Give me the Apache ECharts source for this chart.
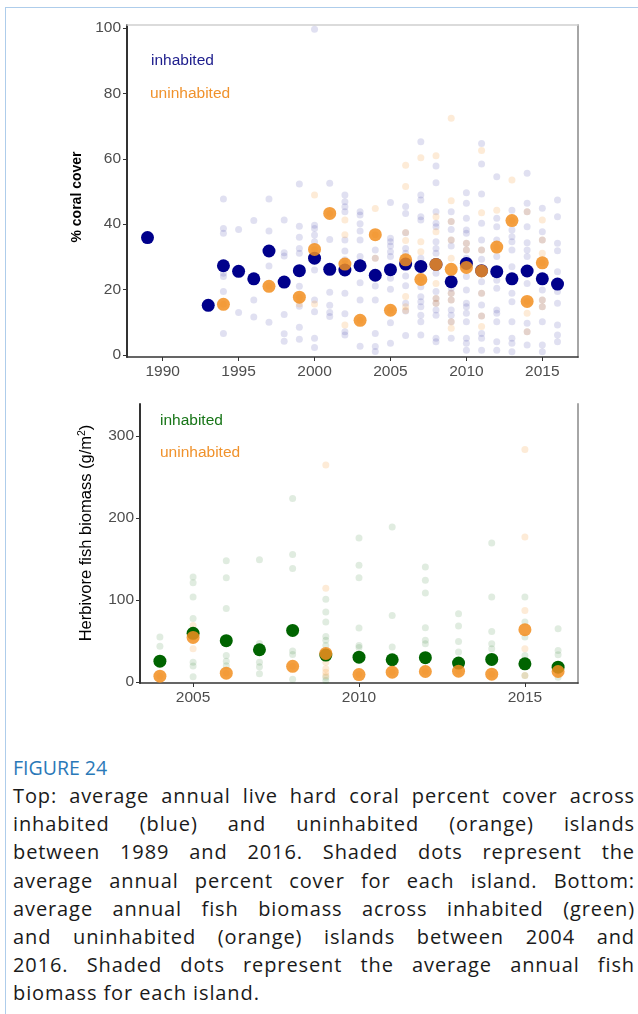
<!DOCTYPE html>
<html>
<head>
<meta charset="utf-8">
<script src="https://cdn.jsdelivr.net/npm/echarts@6/dist/echarts.min.js"></script>
<style>
  html, body { margin: 0; padding: 0; background: #fff; }
  body { width: 638px; height: 1014px; position: relative; overflow: hidden; }
  #frame { position: absolute; left: 5px; top: 7px; width: 640px; height: 1020px;
           border-left: 1px solid #aecdeb; border-top: 1px solid #aecdeb; }
  #chart { position: absolute; left: 0; top: 0; width: 638px; height: 740px; }
  #caption { position: absolute; left: 13px; top: 754px; width: 622px;
             font-family: "Open Sans", sans-serif; color: #1a1a1a; }
  #caption .fig { font-size: 19.5px; color: #2a79b8; line-height: 28px; letter-spacing: 0px; }
  #caption .ln { font-size: 20px; line-height: 28.2px; letter-spacing: 0.9px;
                 text-align: justify; text-align-last: justify; white-space: nowrap; }
  #caption .ln.last { text-align: left; text-align-last: left; }
</style>
</head>
<body>
<div id="frame"></div>
<div id="chart"></div>
<div id="caption">
  <div class="fig">FIGURE 24</div>
  <div class="ln">Top: average annual live hard coral percent cover across</div>
  <div class="ln">inhabited (blue) and uninhabited (orange) islands</div>
  <div class="ln">between 1989 and 2016. Shaded dots represent the</div>
  <div class="ln">average annual percent cover for each island. Bottom:</div>
  <div class="ln">average annual fish biomass across inhabited (green)</div>
  <div class="ln">and uninhabited (orange) islands between 2004 and</div>
  <div class="ln">2016. Shaded dots represent the average annual fish</div>
  <div class="ln last">biomass for each island.</div>
</div>
<script>
// ---------------- TOP PANEL: % coral cover ----------------
const coralTicksX = [1990, 1995, 2000, 2005, 2010, 2015];
const coralTicksY = [0, 20, 40, 60, 80, 100];

const coralInhYears = [1989, 1993, 1994, 1995, 1996, 1997, 1998, 1999, 2000, 2001, 2002, 2003, 2004,
  2005, 2006, 2007, 2008, 2009, 2010, 2011, 2012, 2013, 2014, 2015, 2016];
const coralInhMean = [35.9, 15.2, 27.3, 25.6, 23.3, 31.8, 22.3, 25.8, 29.6, 26.2, 26.0, 27.3, 24.4,
  26.1, 27.8, 27.1, 27.7, 22.4, 28.0, 25.8, 25.5, 23.3, 25.7, 23.3, 21.7];
const coralInhIslands = [
  [],
  [15.2],
  [47.7, 38.7, 37.2, 27, 25, 24, 19.4, 6.6],
  [38.4, 25.6, 13.0],
  [41.1, 23, 16.8, 11.6],
  [47.7, 37.9, 32, 27.2, 10.0],
  [41.3, 31.3, 30.3, 12.4, 6.5, 4.2],
  [52.3, 39.4, 36.0, 32.6, 31.1, 25.8, 21.0, 14.9, 8.5, 4.8],
  [99.6, 39.7, 38.7, 36.7, 34.6, 29.6, 26, 16.8, 13.2, 5.1, 2.3],
  [52.5, 35.3, 26.2, 19.2, 15.2, 13.0, 11.8],
  [48.9, 46.9, 45.3, 43.8, 35.2, 31.8, 29.1, 18.9, 12.6, 7.1, 6.1],
  [43.8, 42.8, 40.1, 37.9, 35.2, 30.1, 22.1, 16.8, 2.7],
  [32.1, 29.6, 24.4, 21.1, 16.8, 6.6, 2.6, 1.1],
  [46.6, 35.7, 34.6, 33.3, 31.6, 30.1, 23.5, 20.1, 9.9, 3.6],
  [45.4, 43.3, 37.4, 32.6, 31.1, 28.0, 24.2, 21.2, 15.8, 13.5, 6.0],
  [65.2, 48.9, 47.4, 42.3, 41.3, 29.6, 28.0, 20.9, 17.8, 16.3, 14.8, 12.2, 10.2, 6.1],
  [57.8, 52.7, 43.8, 40.3, 39.2, 34.6, 32.6, 31.1, 25.0, 19.4, 17.3, 15.8, 13.8, 12.2, 5.1, 4.1],
  [43.8, 40.8, 38.4, 35.2, 33.3, 20.4, 18.9, 16.8, 13.8, 12.2, 10.2, 5.1],
  [49.6, 46.4, 41.8, 38.2, 37.2, 34.2, 32.1, 29.6, 24.0, 19.9, 15.8, 14.8, 12.8, 10.2, 5.1, 3.6, 1.5],
  [64.7, 58.4, 49.2, 40.3, 35.2, 32.1, 29.3, 22.4, 18.9, 15.3, 11.9, 6.6, 5.1, 1.5],
  [54.5, 41.8, 39.2, 35.2, 30.1, 22.9, 20.4, 13.8, 12.8, 10.2, 4.1, 1.5],
  [44.3, 38.2, 36.2, 34.6, 32.1, 27.0, 18.9, 16.3, 10.2, 5.1, 3.6, 1.0],
  [55.6, 46.4, 43.8, 39.2, 34.3, 32.1, 30.1, 21.9, 9.7, 7.1, 3.1],
  [44.9, 37.7, 35.2, 19.9, 16.8, 14.8, 10.2, 3.1, 1.0],
  [47.4, 42.3, 34.2, 31.9, 25.5, 19.4, 15.8, 9.2, 6.1, 4.1]
];

const coralUninYears = [1994, 1997, 1999, 2000, 2001, 2002, 2003, 2004, 2005, 2006, 2007, 2008,
  2009, 2010, 2011, 2012, 2013, 2014, 2015];
const coralUninMean = [15.5, 21.0, 17.7, 32.3, 43.3, 27.8, 10.6, 36.8, 13.7, 29.1, 23.1, 27.7,
  26.2, 26.8, 25.7, 33.0, 41.1, 16.4, 28.2];
const coralUninIslands = [
  [15.5],
  [21.0],
  [17.7, 15.6],
  [48.9, 32.3, 15.6],
  [43.3],
  [41.3, 36.8, 27.8, 9.2],
  [10.6],
  [44.8, 36.8, 29.6],
  [13.7],
  [58.0, 51.5, 37.5, 35.0, 29.1, 17.9, 14.8, 13.6],
  [60.3, 34.6, 31.6, 23.1],
  [60.9, 42.3, 37.7, 27.7, 21.9, 17.3, 15.8],
  [72.4, 47.2, 40.8, 35.2, 29.6, 18.9, 16.8, 10.2, 8.2],
  [34.2, 32.1, 26.8],
  [62.5, 43.5, 32.1, 18.9, 11.9, 8.7],
  [44.3, 33.0],
  [53.5, 41.1],
  [43.8, 16.4, 12.8, 7.1],
  [41.3, 35.2, 31.1, 28.2, 16.8, 14.8]
];

// ---------------- BOTTOM PANEL: herbivore fish biomass ----------------
const fishTicksX = [2005, 2010, 2015];
const fishTicksY = [0, 100, 200, 300];

const fishInhYears = [2004, 2005, 2006, 2007, 2008, 2009, 2010, 2011, 2012, 2013, 2014, 2015, 2016];
const fishInhMean = [25.6, 59.5, 50.5, 39.5, 63.0, 33.0, 30.5, 27.3, 29.8, 23.2, 27.7, 22.4, 18.3];
const fishInhIslands = [
  [54.9, 43.7, 25.6],
  [128, 121, 103.7, 77.6, 59, 24.4, 19.8, 6.6],
  [147.8, 127, 89.8, 50, 32.6, 25.5, 20],
  [149, 47, 24.4, 18.7, 10.2],
  [223.7, 155.4, 138.3, 63, 38, 33.6, 3.7],
  [101, 85.4, 73.2, 55.5, 50.9, 44.8, 6, 2],
  [175.6, 142.3, 127.3, 66.1, 44.8, 42.3, 30.5],
  [189, 81.3, 42.7],
  [140.2, 124, 108.5, 66.3, 50.9, 46.8],
  [83.4, 68.3, 49.6, 36.6],
  [169.5, 103.7, 61.8, 46.8, 40.7],
  [103.7, 73.2, 54.9, 32.6, 8.2],
  [65.1, 38.7, 33.4, 6.1]
];

const fishUninYears = [2004, 2005, 2006, 2008, 2009, 2010, 2011, 2012, 2013, 2014, 2015, 2016];
const fishUninMean = [7.3, 54.5, 11.0, 19.3, 35.0, 9.2, 12.2, 13.0, 13.4, 9.8, 63.9, 13.0];
const fishUninIslands = [
  [7.3],
  [69, 54.5, 40.7],
  [11.0],
  [19.3],
  [264.3, 114.3, 24.4, 16.3, 12.2, 8.2],
  [9.2],
  [12.2],
  [13.0],
  [13.4],
  [9.8],
  [283.4, 176.8, 87.4, 40.7, 8.2],
  [13.0]
];

// ---------------- helpers ----------------
function meanPairs(years, vals) { return years.map((y, i) => [y, vals[i]]); }
function islandPairs(years, lists) {
  const out = [];
  years.forEach((y, i) => lists[i].forEach(v => out.push([y, v])));
  return out;
}

const FONT = 'Liberation Sans, Arial, Helvetica, sans-serif';
const NAVY = '#00008b';
const ORANGE = '#f28e1f';
const GREEN = '#006400';
const AXIS_DARK = '#333333';
const LABEL_GREY = '#4d4d4d';

function mainX(grid, min, max, ticks) {
  return {
    type: 'value', gridIndex: grid, min: min, max: max, position: 'bottom',
    axisLine: { show: true, onZero: false, lineStyle: { color: AXIS_DARK, width: 1.6 } },
    axisTick: { show: true, length: 4, customValues: ticks, lineStyle: { color: AXIS_DARK, width: 1 } },
    axisLabel: { customValues: ticks, margin: 7, color: LABEL_GREY, fontSize: 15.5, fontFamily: FONT,
                 formatter: v => String(v) },
    splitLine: { show: false }
  };
}
function mainY(grid, min, max, ticks) {
  return {
    type: 'value', gridIndex: grid, min: min, max: max, position: 'left',
    axisLine: { show: true, onZero: false, lineStyle: { color: AXIS_DARK, width: 2 } },
    axisTick: { show: true, length: 4, customValues: ticks, lineStyle: { color: AXIS_DARK, width: 1 } },
    axisLabel: { customValues: ticks, margin: 6, color: LABEL_GREY, fontSize: 15.5, fontFamily: FONT },
    splitLine: { show: false }
  };
}
function borderAxis(grid, min, max, pos, color, width) {
  return {
    type: 'value', gridIndex: grid, min: min, max: max, position: pos,
    axisLine: { show: true, onZero: false, lineStyle: { color: color, width: width } },
    axisTick: { show: false }, axisLabel: { show: false }, splitLine: { show: false }
  };
}

const chart = echarts.init(document.getElementById('chart'), null, { renderer: 'canvas' });

const option = {
  animation: false,
  backgroundColor: 'transparent',
  grid: [
    { left: 127, top: 25, width: 451, height: 332 },
    { left: 140, top: 404, width: 438, height: 279 }
  ],
  xAxis: [
    mainX(0, 1987.65, 2017.35, coralTicksX),
    borderAxis(0, 1987.65, 2017.35, 'top', '#cfcfcf', 1.5),
    mainX(1, 2003.4, 2016.6, fishTicksX)
  ],
  yAxis: [
    mainY(0, -0.6, 100.9, coralTicksY),
    borderAxis(0, -0.6, 100.9, 'right', '#a6a6a6', 2),
    mainY(1, -1, 338.7, fishTicksY),
    borderAxis(1, -1, 338.7, 'right', '#a6a6a6', 2)
  ],
  series: [
    { type: 'scatter', xAxisIndex: 0, yAxisIndex: 0, symbolSize: 7,
      itemStyle: { color: NAVY, opacity: 0.12 }, data: islandPairs(coralInhYears, coralInhIslands) },
    { type: 'scatter', xAxisIndex: 0, yAxisIndex: 0, symbolSize: 7,
      itemStyle: { color: ORANGE, opacity: 0.18 }, data: islandPairs(coralUninYears, coralUninIslands) },
    { type: 'scatter', xAxisIndex: 0, yAxisIndex: 0, symbolSize: 13,
      itemStyle: { color: NAVY, opacity: 1 }, data: meanPairs(coralInhYears, coralInhMean) },
    { type: 'scatter', xAxisIndex: 0, yAxisIndex: 0, symbolSize: 13,
      itemStyle: { color: ORANGE, opacity: 0.85 }, data: meanPairs(coralUninYears, coralUninMean) },

    { type: 'scatter', xAxisIndex: 2, yAxisIndex: 2, symbolSize: 7,
      itemStyle: { color: GREEN, opacity: 0.12 }, data: islandPairs(fishInhYears, fishInhIslands) },
    { type: 'scatter', xAxisIndex: 2, yAxisIndex: 2, symbolSize: 7,
      itemStyle: { color: ORANGE, opacity: 0.18 }, data: islandPairs(fishUninYears, fishUninIslands) },
    { type: 'scatter', xAxisIndex: 2, yAxisIndex: 2, symbolSize: 13,
      itemStyle: { color: GREEN, opacity: 1 }, data: meanPairs(fishInhYears, fishInhMean) },
    { type: 'scatter', xAxisIndex: 2, yAxisIndex: 2, symbolSize: 13,
      itemStyle: { color: ORANGE, opacity: 0.85 }, data: meanPairs(fishUninYears, fishUninMean) }
  ],
  graphic: [
    { type: 'text', x: 151, y: 61, style: { text: 'inhabited', fill: '#1c1c8c', fontSize: 15.5, fontFamily: FONT, verticalAlign: 'middle' } },
    { type: 'text', x: 150, y: 94, style: { text: 'uninhabited', fill: '#f0922c', fontSize: 15.5, fontFamily: FONT, verticalAlign: 'middle' } },
    { type: 'text', x: 160, y: 421, style: { text: 'inhabited', fill: '#177517', fontSize: 15.5, fontFamily: FONT, verticalAlign: 'middle' } },
    { type: 'text', x: 160, y: 453, style: { text: 'uninhabited', fill: '#f0922c', fontSize: 15.5, fontFamily: FONT, verticalAlign: 'middle' } },
    { type: 'text', x: 77, y: 197, rotation: Math.PI / 2,
      style: { text: '% coral cover', fill: '#000', fontSize: 14, fontWeight: 'bold', fontFamily: FONT,
               align: 'center', verticalAlign: 'middle' } },
    { type: 'text', x: 86, y: 533, rotation: Math.PI / 2,
      style: { text: 'Herbivore fish biomass (g/m{sup|2})', fill: '#000', fontSize: 16.5, fontFamily: FONT,
               align: 'center', verticalAlign: 'middle',
               rich: { sup: { fontSize: 10.5, fontFamily: FONT, fill: '#000', verticalAlign: 'top', padding: [0, 0, 8, 0] } } } }
  ]
};
chart.setOption(option);
</script>
</body>
</html>
